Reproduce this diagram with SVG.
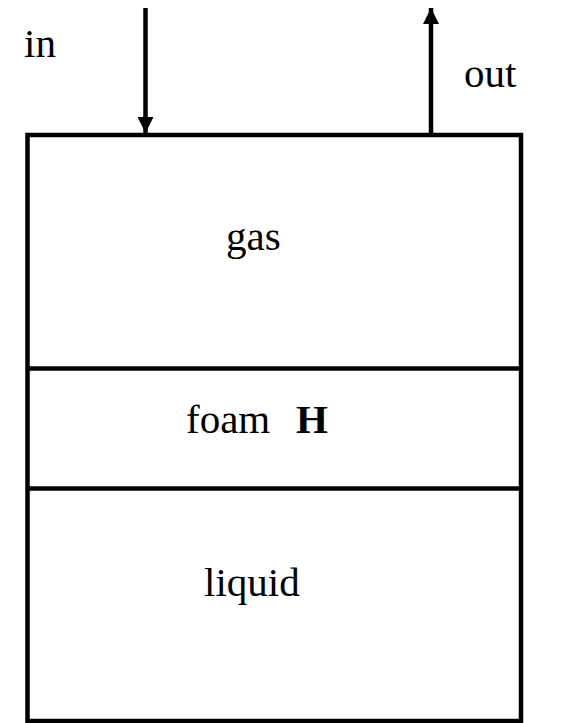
<svg xmlns="http://www.w3.org/2000/svg" width="573" height="723" viewBox="0 0 573 723">
<style>
.ln{stroke:#000;stroke-width:4.5;fill:none}
.t{font-family:"Liberation Serif","Times New Roman",serif;font-size:41px;fill:#000}
.b{font-weight:bold}
</style>
<defs>
<marker id="ah" viewBox="0 0 16 16" refX="16" refY="8" markerWidth="16" markerHeight="16" markerUnits="userSpaceOnUse" orient="auto">
<path d="M0,0 L16,8 L0,16 Z" fill="#000"/>
</marker>
</defs>
<rect width="573" height="723" fill="#fff"/>
<g id="tank">
<rect class="ln" x="27.5" y="135" width="493.5" height="586"/>
</g>
<g id="gas"><text class="t" x="226" y="250">gas</text></g>
<g id="foam">
<line class="ln" x1="27.5" y1="368.5" x2="521" y2="368.5"/>
<text class="t" x="186" y="433">foam</text>
<text class="t b" x="296" y="433">H</text>
</g>
<g id="liquid">
<line class="ln" x1="27.5" y1="488.5" x2="521" y2="488.5"/>
<text class="t" x="204" y="596">liquid</text>
</g>
<g id="connectors">
<line class="ln" x1="145.5" y1="8" x2="145.5" y2="133" marker-end="url(#ah)"/>
<line class="ln" x1="431" y1="135" x2="431" y2="8" marker-end="url(#ah)"/>
</g>
<g id="labels">
<text class="t" x="24" y="57">in</text>
<text class="t" x="464" y="87">out</text>
</g>
</svg>
